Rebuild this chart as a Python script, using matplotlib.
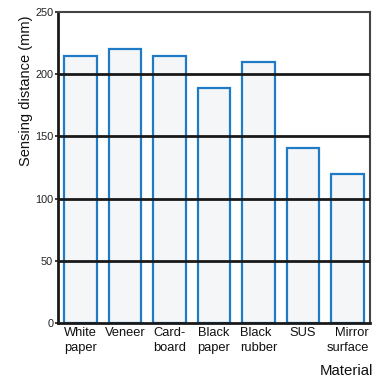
import matplotlib
matplotlib.use("Agg")
import matplotlib.pyplot as plt

categories = ["White\npaper", "Veneer", "Card-\nboard", "Black\npaper", "Black\nrubber", "SUS", "Mirror\nsurface"]
label_align = ["left", "center", "right", "left", "left", "center", "right"]
values = [215, 220, 215, 189, 210, 141, 120]
yticks = [0, 50, 100, 150, 200, 250]

plt.rcParams['font.family'] = ['Liberation Sans', 'DejaVu Sans']

fig = plt.figure(figsize=(3.77, 3.83), dpi=100)
ax = fig.add_axes([58/377, 1-323/383, 312/377, 311/383])

x = list(range(len(categories)))
ax.bar(x, values, width=0.73, facecolor="#f5f6f8", edgecolor="#1f7bc6", linewidth=1.6, zorder=2)
for v in yticks[1:-1]:
    ax.axhline(v, color="#1a1a1a", linewidth=2.0, zorder=3)

ax.set_xlim(-0.5, len(categories) - 0.5)
ax.set_ylim(0, 250)
ax.set_yticks(yticks)
ax.set_yticklabels([str(t) for t in yticks], fontsize=7.8, color="#222222")
ax.set_xticks(x)
ax.set_xticklabels(categories, fontsize=9.3, linespacing=1.35, color="#111111")
for lab, al in zip(ax.get_xticklabels(), label_align):
    lab.set_multialignment(al)
ax.tick_params(axis='x', length=0, pad=3)
ax.tick_params(axis='y', length=2.5, width=1.2, pad=1, color="#1a1a1a")

for s in ["left", "bottom"]:
    ax.spines[s].set_linewidth(2.0)
    ax.spines[s].set_color("#1a1a1a")
for s in ["top", "right"]:
    ax.spines[s].set_linewidth(1.5)
    ax.spines[s].set_color("#444444")

ax.set_ylabel("Sensing distance (mm)", fontsize=10.5, loc='top', color="#111111")
ax.yaxis.set_label_coords(-0.08, 0.99)

fig.text(373/377, 1-378/383, "Material", fontsize=10.8, ha="right", va="bottom", color="#111111")

fig.savefig("out.png", dpi=100)
